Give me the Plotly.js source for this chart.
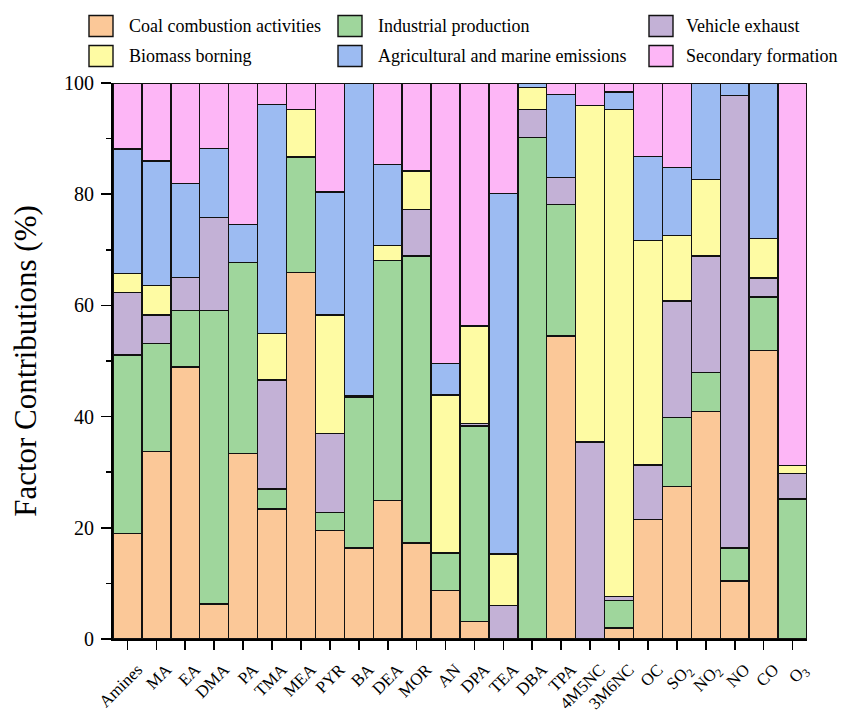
<!DOCTYPE html>
<html>
<head>
<meta charset="utf-8">
<script src="https://cdn.plot.ly/plotly-3.0.1.min.js"></script>
<style>html,body{margin:0;padding:0;background:#fff;}#chart{width:841px;height:713px;}</style>
</head>
<body>
<div id="chart"></div>
<script>
const categories = ['Amines','MA','EA','DMA','PA','TMA','MEA','PYR','BA','DEA','MOR','AN','DPA','TEA','DBA','TPA','4M5NC','3M6NC','OC','SO<sub>2</sub>','NO<sub>2</sub>','NO','CO','O<sub>3</sub>'];

const coal       = [19.0,33.7,48.9, 6.3,33.4,23.4,65.9,19.5,16.4,24.9,17.3, 8.7, 3.1, 0.0, 0.0,54.5, 0.0, 2.0,21.5,27.4,40.9,10.4,51.9, 0.0];
const industrial = [32.1,19.5,10.2,52.8,34.3, 3.6,20.8, 3.2,27.0,43.2,51.6, 6.8,35.2, 0.0,90.2,23.7, 0.0, 4.9, 0.0,12.4, 7.0, 6.0, 9.6,25.2];
const vehicle    = [11.2, 5.1, 5.9,16.7, 0.0,19.6, 0.0,14.3, 0.3, 0.0, 8.4, 0.0, 0.5, 6.0, 5.0, 4.8,35.4, 0.7, 9.8,21.0,21.0,81.4, 3.4, 4.6];
const biomass    = [ 3.4, 5.3, 0.0, 0.0, 0.0, 8.4, 8.5,21.3, 0.0, 2.7, 6.9,28.4,17.5, 9.3, 4.0, 0.0,60.6,87.6,40.4,11.8,13.7, 0.0, 7.1, 1.4];
const agri       = [22.4,22.4,16.9,12.4, 6.8,41.1, 0.0,22.1,56.3,14.5, 0.0, 5.7, 0.0,64.8, 0.8,14.9, 0.0, 3.2,15.1,12.2,17.4, 2.2,28.0, 0.0];
const secondary  = [11.9,14.0,18.1,11.8,25.5, 3.9, 4.8,19.6, 0.0,14.7,15.8,50.4,43.7,19.9, 0.0, 2.1, 4.0, 1.6,13.2,15.2, 0.0, 0.0, 0.0,68.8];

const seriesNames = ['Coal combustion activities','Industrial production','Vehicle exhaust','Biomass borning','Agricultural and marine emissions','Secondary formation'];
const seriesValues = [coal, industrial, vehicle, biomass, agri, secondary];
const colors = ['#FBC898','#9FD69C','#C3B1D6','#FEFBA3','#9CBBF2','#FDB6F6'];

const W = 841, H = 713;
const M = {l: 113, r: 34, t: 83, b: 74};
const pw = W - M.l - M.r, ph = H - M.t - M.b;
const px2x = p => (p - M.l) / pw;
const py2y = p => (H - M.b - p) / ph;

const traces = seriesNames.map((name, i) => ({
  type: 'bar',
  name: name,
  x: categories,
  y: seriesValues[i],
  marker: {color: colors[i], line: {color: '#111', width: 1.4}},
  showlegend: false,
  hoverinfo: 'x+y+name'
}));

// legend layout: 3 columns x 2 rows (row-major order of series)
const colBox = [89, 338, 649];
const colText = [127, 376, 684];
const rowCenter = [26, 56];
const shapes = [], annotations = [];
const serif = 'Liberation Serif, Times New Roman, serif';
seriesNames.forEach((name, i) => {
  const col = i % 3, row = Math.floor(i / 3);
  const cy = rowCenter[row];
  shapes.push({
    type: 'rect', xref: 'paper', yref: 'paper',
    x0: px2x(colBox[col]), x1: px2x(colBox[col] + 24),
    y0: py2y(cy - 10.5), y1: py2y(cy + 10.5),
    fillcolor: colors[i], line: {color: '#111', width: 1.4}
  });
  annotations.push({
    xref: 'paper', yref: 'paper', x: px2x(colText[col]), y: py2y(cy),
    xanchor: 'left', yanchor: 'middle', showarrow: false,
    text: name, font: {family: serif, size: 18, color: '#000'}
  });
});

const layout = {
  width: W, height: H,
  margin: {l: M.l, r: M.r, t: M.t, b: M.b},
  paper_bgcolor: '#fff', plot_bgcolor: '#fff',
  barmode: 'stack', bargap: 0,
  font: {family: serif, color: '#000'},
  showlegend: false,
  shapes: shapes,
  annotations: annotations,
  xaxis: {
    type: 'category', range: [-0.5, 23.5],
    showline: true, linecolor: '#000', linewidth: 2,
    ticks: 'outside', ticklen: 9, tickwidth: 1.6, tickcolor: '#000',
    tickangle: -45, tickfont: {family: serif, size: 17, color: '#000'},
    ticklabelshift: 10, ticklabelstandoff: 3,
    showgrid: false, zeroline: false, fixedrange: true
  },
  yaxis: {
    range: [0, 100], tickvals: [0,20,40,60,80,100],
    showline: true, linecolor: '#000', linewidth: 2,
    ticks: 'outside', ticklen: 10, tickwidth: 1.6, tickcolor: '#000',
    minor: {tickvals: [10,30,50,70,90], ticks: 'outside', ticklen: 5, tickwidth: 1.6, tickcolor: '#000'},
    tickfont: {family: serif, size: 20, color: '#000'},
    ticklabelstandoff: 3,
    title: {text: 'Factor Contributions (%)', font: {family: serif, size: 31, color: '#000'}, standoff: 18},
    showgrid: false, zeroline: false, fixedrange: true
  }
};

Plotly.newPlot('chart', traces, layout, {displayModeBar: false, staticPlot: true});
</script>
</body>
</html>
